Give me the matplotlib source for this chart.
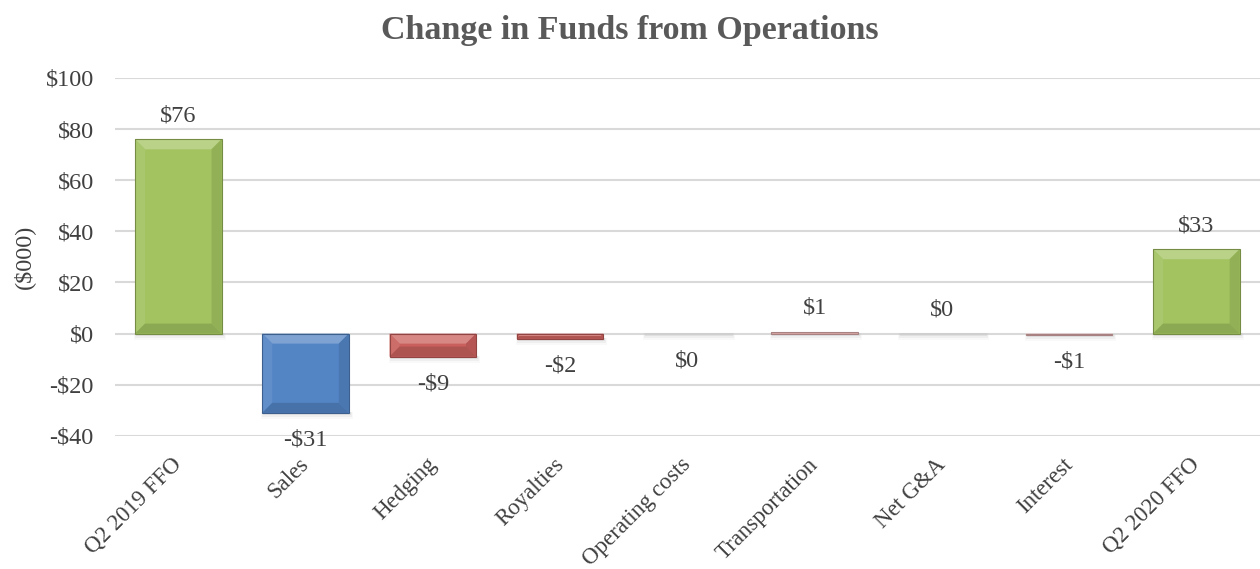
import matplotlib.pyplot as plt
from matplotlib.patches import Polygon, Rectangle
import numpy as np

# dados do gráfico
categorias = ['Q2 2019 FFO', 'Sales', 'Hedging', 'Royalties', 'Operating costs',
              'Transportation', 'Net G&A', 'Interest', 'Q2 2020 FFO']
valores = [76, -31, -9, -2, -0.3, 0.6, 0.0, -0.6, 33]
rotulos = ['$76', '-$31', '-$9', '-$2', '$0', '$1', '$0', '-$1', '$33']

cores = ['#a2c360', '#5384c4', '#c9605d', '#c9605d', '#f3f3f3',
         '#eab4b2', '#eab4b2', '#eab4b2', '#a2c360']


def clarear(cor, f):
    c = np.array(plt.matplotlib.colors.to_rgb(cor))
    return tuple(c + (1 - c) * f)


def escurecer(cor, f):
    c = np.array(plt.matplotlib.colors.to_rgb(cor))
    return tuple(c * (1 - f))


plt.rcParams['font.family'] = ['Liberation Serif', 'DejaVu Serif']

fig = plt.figure(figsize=(12.6, 5.69), dpi=100)
ax = fig.add_axes([0.091, 0.234, 0.909, 0.629])

x = np.arange(len(categorias))
ax.set_xlim(-0.5, len(categorias) - 0.5)
ax.set_ylim(-40, 100)
ax.set_yticks(range(-40, 101, 20))
ax.set_yticklabels([f'${v}' if v >= 0 else f'-${-v}' for v in range(-40, 101, 20)])
ax.yaxis.grid(True, color='#d9d9d9', linewidth=1.5)
ax.set_axisbelow(True)
for s in ax.spines.values():
    s.set_visible(False)
ax.tick_params(axis='y', length=0, labelsize=17.5, labelcolor='#404040', pad=15)
ax.tick_params(axis='x', length=0, labelsize=16.5, labelcolor='#404040', pad=13)

barras = ax.bar(x, valores, width=0.68, color=cores, zorder=3)

# efeito de chanfro (bevel) e sombra
fig.canvas.draw()
inv = ax.transData.inverted()
bv = 10  # pixels
for b, cor in zip(barras, cores):
    x0, y0 = ax.transData.transform((b.get_x(), min(b.get_y(), b.get_y() + b.get_height())))
    x1, y1 = ax.transData.transform((b.get_x() + b.get_width(),
                                     max(b.get_y(), b.get_y() + b.get_height())))
    h = y1 - y0
    d = min(bv, h / 2)
    # sombra
    for k, a in enumerate([0.35, 0.2, 0.1]):
        sx0, sy0 = inv.transform((x0 + 1 - k, y0 - 2 - 2 * k))
        sx1, sy1 = inv.transform((x1 + 2 + k, y0 + 1))
        ax.add_patch(Rectangle((sx0, sy0), sx1 - sx0, sy1 - sy0, color='#c8c8c8',
                               alpha=a, zorder=2, linewidth=0))
    if h < 1:
        continue
    faces = [
        ([(x0, y1), (x1, y1), (x1 - d, y1 - d), (x0 + d, y1 - d)], clarear(cor, 0.25)),
        ([(x0, y0), (x0, y1), (x0 + d, y1 - d), (x0 + d, y0 + d)], clarear(cor, 0.08)),
        ([(x1, y0), (x1, y1), (x1 - d, y1 - d), (x1 - d, y0 + d)], escurecer(cor, 0.1)),
        ([(x0, y0), (x1, y0), (x1 - d, y0 + d), (x0 + d, y0 + d)], escurecer(cor, 0.14)),
    ]
    for pts, c in faces:
        ax.add_patch(Polygon(inv.transform(pts), closed=True, facecolor=c,
                             edgecolor='none', zorder=4))
    ex0, ey0 = inv.transform((x0, y0))
    ex1, ey1 = inv.transform((x1, y1))
    ax.add_patch(Rectangle((ex0, ey0), ex1 - ex0, ey1 - ey0, fill=False,
                           edgecolor=escurecer(cor, 0.28), linewidth=0.8, zorder=5))

# rótulos de dados
for xi, v, r in zip(x, valores, rotulos):
    off = 17 if v >= 0 else -19.5
    ax.annotate(r, (xi, v), xytext=(0, off), textcoords='offset points',
                ha='center', va='center', fontsize=17.5, color='#404040', zorder=6)

ax.set_xticks(x)
ax.set_xticklabels(categorias, rotation=45, ha='right', rotation_mode='anchor')
for t in ax.get_xticklabels():
    t.set_transform(t.get_transform() + plt.matplotlib.transforms.ScaledTranslation(
        -5 / 72, 0, fig.dpi_scale_trans))

ax.set_ylabel('($000)', fontsize=17.5, color='#404040', labelpad=8)
fig.text(0.5, 0.947, 'Change in Funds from Operations', ha='center', va='center',
         fontsize=24.5, fontweight='bold', color='#595959')

plt.savefig('out.png')
